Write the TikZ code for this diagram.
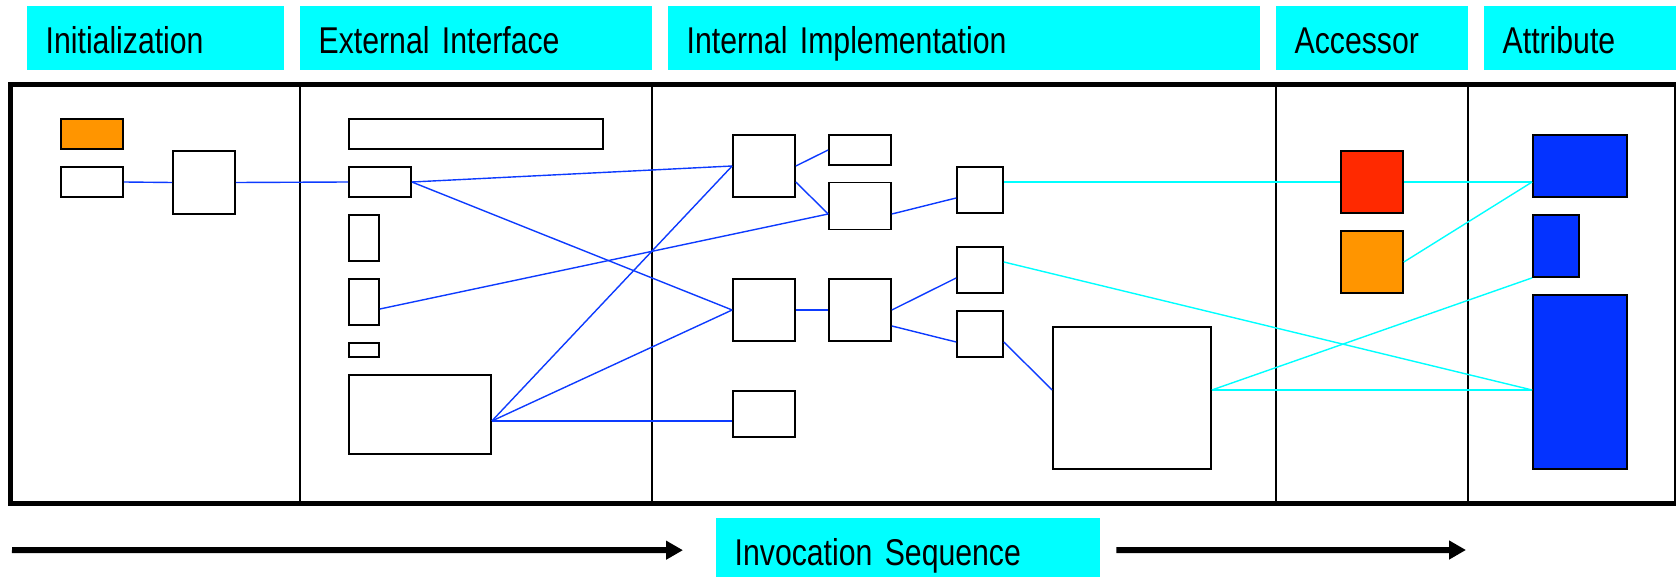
\documentclass[tikz,border=0pt]{standalone}
\usepackage{fontspec}
\newfontfamily\narrowsans[FakeStretch=0.81]{Liberation Sans}
\usetikzlibrary{positioning,arrows.meta,calc}
\definecolor{hcyan}{HTML}{00FFFF}
\definecolor{wireblue}{HTML}{0D3BFF}
\definecolor{attrblue}{HTML}{0433FF}
\definecolor{accorange}{HTML}{FF9500}
\definecolor{accred}{HTML}{FF2900}

\begin{document}
\begin{tikzpicture}[
  x=1pt, y=-1pt,
  hdr/.style={fill=hcyan, anchor=north west, inner xsep=18.5pt, inner ysep=0pt, minimum height=64pt,
    text height=40pt, text depth=9.4pt, align=left, font=\narrowsans\fontsize{37.3pt}{44pt}\selectfont},
  blk/.style={draw, line width=1.7pt, fill=white, inner sep=0pt},
  attr/.style={blk, fill=attrblue},
  lane/.style={line width=2pt},
  wire/.style={wireblue, line width=1.4pt},
  cwire/.style={hcyan, line width=1.4pt},
  flow/.style={line width=6pt, -{Triangle[length=17pt,width=18pt]}},
]
\useasboundingbox (0,0) rectangle (1676,577);

% column headers
\node[hdr, text width=220pt] (hInit) at (27,6)   {Initialization};
\node[hdr, text width=315pt] (hExt)  at (300,6)  {External Interface};
\node[hdr, text width=555pt] (hInt)  at (668,6)  {Internal Implementation};
\node[hdr, text width=155pt] (hAcc)  at (1276,6) {Accessor};
\node[hdr, text width=155pt] (hAttr) at (1484,6) {Attribute};

% frame and lanes
\draw[line width=4.7pt] (10.3,84.3) rectangle (1676,503.3);
\draw[lane] (300,84.3) -- (300,503.3);
\draw[lane] (652,84.3) -- (652,503.3);
\draw[lane] (1276,84.3) -- (1276,503.3);
\draw[lane] (1468,84.3) -- (1468,503.3);

% initialization
\node[blk, fill=accorange, minimum width=62pt, minimum height=30pt] (iniFlag) at (92,134) {};
\node[blk, minimum width=62pt, minimum height=30pt] (iniArg)  at (92,182) {};
\node[blk, minimum width=62pt, minimum height=63pt] (iniMain) at (204,182.5) {};

% external interface
\node[blk, minimum width=254pt, minimum height=30pt] (extSig)  at (476,134) {};
\node[blk, minimum width=62pt, minimum height=30pt]  (extCall) at (380,182) {};
\node[blk, minimum width=30pt, minimum height=46pt]  (extChk)  at (364,238) {};
\node[blk, minimum width=30pt, minimum height=46pt]  (extOpt)  at (364,302) {};
\node[blk, minimum width=30pt, minimum height=14pt]  (extTag)  at (364,350) {};
\node[blk, minimum width=142pt, minimum height=79pt] (extCore) at (420,414.5) {};

% internal implementation
\node[blk, minimum width=62pt, minimum height=62pt]   (impA)  at (764,166) {};
\node[blk, minimum width=62pt, minimum height=62pt]   (impB)  at (764,310) {};
\node[blk, minimum width=62pt, minimum height=46pt]   (impC)  at (764,414) {};
\node[blk, minimum width=62pt, minimum height=30pt]   (subA)  at (860,150) {};
\node[blk, minimum width=62pt, minimum height=47pt]   (subB)  at (860,206) {};
\node[blk, minimum width=62pt, minimum height=62pt]   (subC)  at (860,310) {};
\node[blk, minimum width=46pt, minimum height=46pt]   (getA)  at (980,190) {};
\node[blk, minimum width=46pt, minimum height=46pt]   (getB)  at (980,270) {};
\node[blk, minimum width=46pt, minimum height=46pt]   (getC)  at (980,334) {};
\node[blk, minimum width=158pt, minimum height=142pt] (store) at (1132,398) {};

% accessors
\node[blk, fill=accred, minimum width=62pt, minimum height=62pt]    (accGet) at (1372,182) {};
\node[blk, fill=accorange, minimum width=62pt, minimum height=62pt] (accSet) at (1372,262) {};

% attributes
\node[attr, minimum width=94pt, minimum height=62pt]  (attA) at (1580,166) {};
\node[attr, minimum width=46pt, minimum height=62pt]  (attB) at (1556,246) {};
\node[attr, minimum width=94pt, minimum height=174pt] (attC) at (1580,382) {};

% calls
\draw[wire] (iniArg.east) -- (iniMain.west);
\draw[wire] (iniMain.east) -- (extCall.west);
\draw[wire] (extCall.east) -- (impA.west);
\draw[wire] (extCall.east) -- (impB.west);
\draw[wire] ($(extOpt.east)+(0,7)$) -- ($(subB.west)+(0,8)$);
\coordinate (coreOut) at ($(extCore.east)+(0,6.5)$);
\draw[wire] (coreOut) -- (impA.west);
\draw[wire] (coreOut) -- (impB.west);
\draw[wire] (coreOut) -- (coreOut -| impC.west);
\draw[wire] (impA.east) -- (subA.west);
\draw[wire] ($(impA.east)+(0,16)$) -- ($(subB.west)+(0,8)$);
\draw[wire] ($(subB.east)+(0,8)$) -- ($(getA.west)+(0,8)$);
\draw[wire] (impB.east) -- (subC.west);
\draw[wire] (subC.east) -- ($(getB.west)+(0,8)$);
\draw[wire] ($(subC.east)+(0,16)$) -- ($(getC.west)+(0,8)$);
\draw[wire] ($(getC.east)+(0,8)$) -- ($(store.west)+(0,-8)$);

% attribute access
\draw[cwire] ($(getA.east)+(0,-8)$) -- (accGet.west);
\draw[cwire] (accGet.east) -- ($(attA.west)+(0,16)$);
\draw[cwire] (accSet.east) -- ($(attA.west)+(0,16)$);
\draw[cwire] ($(getB.east)+(0,-8)$) -- ($(attC.west)+(0,8)$);
\draw[cwire] ($(store.east)+(0,-8)$) -- ($(attC.west)+(0,8)$);
\draw[cwire] ($(store.east)+(0,-8)$) -- (attB.south west);

% invocation sequence
\node[hdr, text width=347pt] (inv) at (716,518) {Invocation Sequence};
\coordinate (seqStart) at (12,550);
\coordinate (seqEnd) at (1466,550);
\draw[flow, shorten >=33pt] (seqStart) -- (inv.west);
\draw[flow, shorten <=16pt] (inv.east) -- (seqEnd);

\end{tikzpicture}
\end{document}
